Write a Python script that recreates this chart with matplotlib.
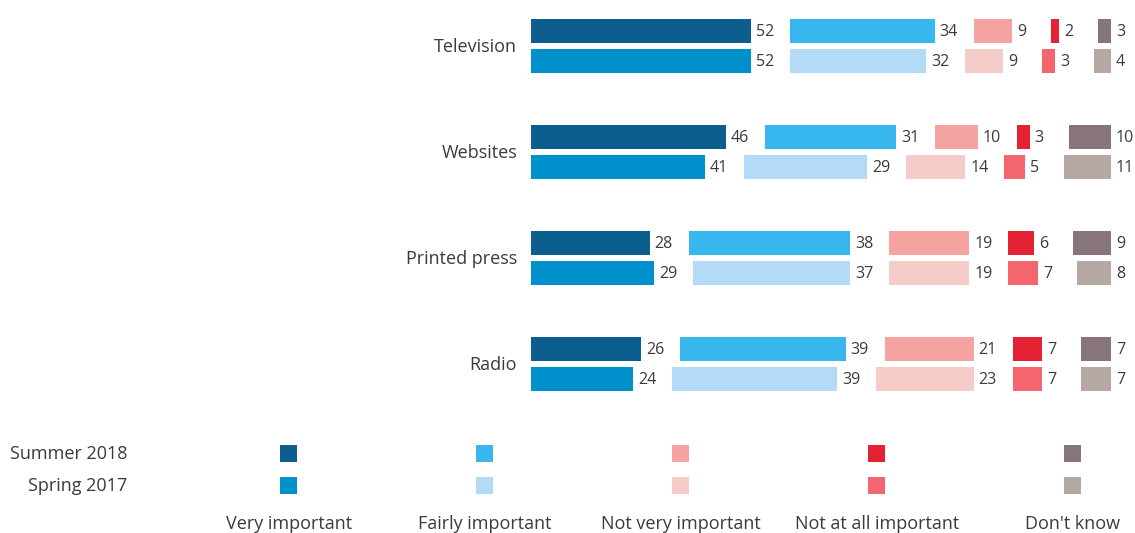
import matplotlib
matplotlib.use("Agg")
import matplotlib.pyplot as plt
from matplotlib.patches import Rectangle

# Survey answers: share of respondents (%) per medium and wave
media = ["Television", "Websites", "Printed press", "Radio"]
waves = ["Summer 2018", "Spring 2017"]
answers = ["Very important", "Fairly important", "Not very important",
           "Not at all important", "Don't know"]

summer_2018 = [
    [52, 34, 9, 2, 3],
    [46, 31, 10, 3, 10],
    [28, 38, 19, 6, 9],
    [26, 39, 21, 7, 7],
]
spring_2017 = [
    [52, 32, 9, 3, 4],
    [41, 29, 14, 5, 11],
    [29, 37, 19, 7, 8],
    [24, 39, 23, 7, 7],
]

colors_2018 = ["#0b5e8e", "#38b6ee", "#f4a3a1", "#e42234", "#877579"]
colors_2017 = ["#0090cc", "#b3dbf7", "#f6ccc9", "#f4666e", "#b5a8a3"]

TEXT = "#3a3a3a"
FONT = "Open Sans"
plt.rcParams["font.family"] = [FONT, "DejaVu Sans"]

W, H, DPI = 1135, 533, 72
GAP = 9.2  # empty space between answer segments, in percentage units

fig = plt.figure(figsize=(W / DPI, H / DPI), dpi=DPI)
fig.patch.set_facecolor("white")

# Bar area
ax = fig.add_axes([531 / W, 1 - 400 / H, 580 / W, 400 / H])
ax.set_xlim(0, 100 + 4 * GAP)
ax.set_ylim(400, 0)
ax.axis("off")

first_row = 31
row_step = 30
group_step = 106
bar_h = 24

for i, name in enumerate(media):
    for w, (vals, cols) in enumerate([(summer_2018[i], colors_2018),
                                      (spring_2017[i], colors_2017)]):
        y = first_row + i * group_step + w * row_step
        left = 0
        for v, c in zip(vals, cols):
            ax.barh(y, v, left=left, height=bar_h, color=c, linewidth=0)
            ax.annotate(str(v), (left + v, y), xytext=(5, -1),
                        textcoords="offset points", ha="left", va="center",
                        fontsize=16, color=TEXT)
            left += v + GAP
    y_mid = first_row + i * group_step + row_step / 2
    ax.annotate(name, (0, y_mid), xytext=(-14, -1), textcoords="offset points",
                ha="right", va="center", fontsize=18, color=TEXT)

# Legend
lg = fig.add_axes([0, 0, 1, 1], zorder=-1)
lg.set_xlim(0, W)
lg.set_ylim(H, 0)
lg.axis("off")

leg_rows = [453, 485]
leg_x0, leg_dx, sq = 288, 196, 17
for w, wave in enumerate(waves):
    lg.text(127, leg_rows[w] + 1, wave, ha="right", va="center",
            fontsize=18, color=TEXT)
for j, ans in enumerate(answers):
    cx = leg_x0 + j * leg_dx
    for w, cols in enumerate([colors_2018, colors_2017]):
        lg.add_patch(Rectangle((cx - sq / 2, leg_rows[w] - sq / 2), sq, sq,
                               facecolor=cols[j], linewidth=0))
    lg.text(cx + 1, 524, ans, ha="center", va="center", fontsize=18, color=TEXT)

fig.savefig("out.png", dpi=DPI, facecolor="white")
